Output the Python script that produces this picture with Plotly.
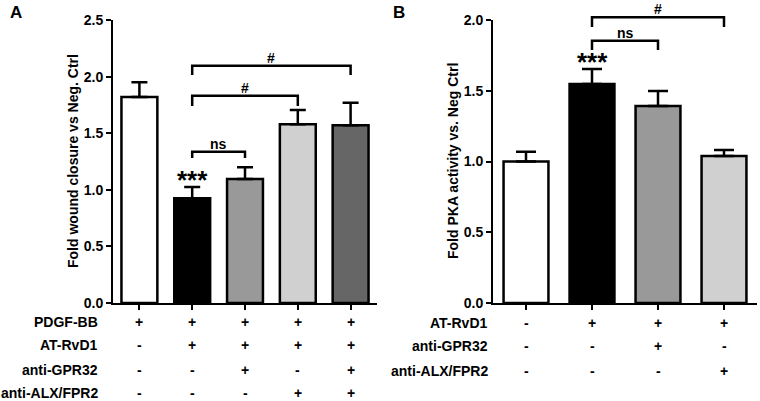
import plotly.graph_objects as go

# panel A: wound closure
groups_a = ['1', '2', '3', '4', '5']
wound = [1.82, 0.925, 1.095, 1.58, 1.57]
wound_err = [0.13, 0.10, 0.105, 0.125, 0.20]
colors_a = ['white', 'black', '#999999', '#d0d0d0', '#666666']
rows_a = ['PDGF-BB', 'AT-RvD1', 'anti-GPR32', 'anti-ALX/FPR2']
signs_a = [['+', '+', '+', '+', '+'],
           ['-', '+', '+', '+', '+'],
           ['-', '-', '+', '-', '+'],
           ['-', '-', '-', '+', '+']]
# (from, to, top, leg bottom, label)
brackets_a = [(1, 2, 1.337, 1.28, 'ns'),
              (1, 3, 1.83, 1.74, '#'),
              (1, 4, 2.096, 2.014, '#')]

# panel B: PKA activity
groups_b = ['1', '2', '3', '4']
pka = [1.0, 1.548, 1.392, 1.039]
pka_err = [0.069, 0.106, 0.106, 0.042]
colors_b = ['white', 'black', '#999999', '#d0d0d0']
rows_b = ['AT-RvD1', 'anti-GPR32', 'anti-ALX/FPR2']
signs_b = [['-', '+', '+', '+'],
           ['-', '-', '+', '-'],
           ['-', '-', '-', '+']]
brackets_b = [(1, 2, 1.854, 1.788, 'ns'),
              (1, 3, 2.019, 1.951, '#')]

W, H = 760, 401
FONT = 'Liberation Sans'


def px(x):
    return x / W


def py(y):
    return 1 - y / H


fig = go.Figure()

axis_common = dict(showgrid=False, zeroline=False, showline=True, linecolor='black',
                   linewidth=2, ticks='outside', ticklen=5, tickwidth=2, tickcolor='black',
                   automargin=False)

fig.add_trace(go.Bar(x=list(range(len(wound))), y=wound, width=0.68,
                     marker=dict(color=colors_a, line=dict(color='black', width=2.5)),
                     error_y=dict(type='data', array=wound_err, arrayminus=[0] * len(wound),
                                  symmetric=False, color='black', thickness=2.5, width=8),
                     xaxis='x', yaxis='y', showlegend=False))
fig.add_trace(go.Bar(x=list(range(len(pka))), y=pka, width=0.68,
                     marker=dict(color=colors_b, line=dict(color='black', width=2.5)),
                     error_y=dict(type='data', array=pka_err, arrayminus=[0] * len(pka),
                                  symmetric=False, color='black', thickness=2.5, width=10),
                     xaxis='x2', yaxis='y2', showlegend=False))

ymax_a, ymax_b = 2.5, 2.0
fig.update_layout(
    width=W, height=H, margin=dict(l=0, r=0, t=0, b=0, pad=0, autoexpand=False),
    paper_bgcolor='white', plot_bgcolor='white',
    font=dict(family=FONT, size=14, color='black'),
    xaxis=dict(domain=[px(113), px(377)], range=[-0.5, 4.5], tickvals=list(range(5)),
               showticklabels=False, anchor='y', **axis_common),
    yaxis=dict(domain=[py(303), py(20)], range=[0, ymax_a], tickvals=[0, 0.5, 1, 1.5, 2, 2.5],
               ticktext=['0.0', '0.5', '1.0', '1.5', '2.0', '2.5'], anchor='x',
               tickfont=dict(family=FONT, size=14, color='black', weight='bold'), **axis_common),
    xaxis2=dict(domain=[px(493), px(757)], range=[-0.5, 3.5], tickvals=list(range(4)),
                showticklabels=False, anchor='y2', **axis_common),
    yaxis2=dict(domain=[py(303), py(20)], range=[0, ymax_b], tickvals=[0, 0.5, 1, 1.5, 2],
                ticktext=['0.0', '0.5', '1.0', '1.5', '2.0'], anchor='x2',
                tickfont=dict(family=FONT, size=14, color='black', weight='bold'), **axis_common),
)


def add_brackets(brackets, xref, yref, ymax):
    for i, j, top, leg, label in brackets:
        fig.add_shape(type='path', xref=xref, yref=yref + ' domain',
                      path=f'M {i},{leg / ymax} L {i},{top / ymax} L {j},{top / ymax} L {j},{leg / ymax}',
                      line=dict(color='black', width=2.5))
        fig.add_annotation(x=(i + j) / 2, y=top / ymax, xref=xref, yref=yref + ' domain',
                           text=f'<b>{label}</b>', showarrow=False, xanchor='center',
                           yanchor='bottom', yshift=-1, borderpad=0, font=dict(size=14))


add_brackets(brackets_a, 'x', 'y', ymax_a)
add_brackets(brackets_b, 'x2', 'y2', ymax_b)

# significance stars above the AT-RvD1 bars
fig.add_annotation(x=1, y=wound[1] + wound_err[1], xref='x', yref='y', text='<b>***</b>',
                   showarrow=False, xanchor='center', yanchor='bottom', yshift=-10,
                   font=dict(size=26))
fig.add_annotation(x=1, y=(pka[1] + pka_err[1]) / ymax_b, xref='x2', yref='y2 domain',
                   text='<b>***</b>', showarrow=False, xanchor='center', yanchor='bottom',
                   yshift=-10, font=dict(size=26))


def add_table(rows, signs, xref, label_x, row_y):
    for r, name in enumerate(rows):
        fig.add_annotation(x=px(label_x), y=py(row_y[r]), xref='paper', yref='paper',
                           text=f'<b>{name}</b>', showarrow=False, xanchor='right',
                           yanchor='middle', font=dict(size=14))
        for c, s in enumerate(signs[r]):
            fig.add_annotation(x=c, y=py(row_y[r]), xref=xref, yref='paper',
                               text=f'<b>{s}</b>', showarrow=False, xanchor='center',
                               yanchor='middle', font=dict(size=14))


add_table(rows_a, signs_a, 'x', 100, [322, 345, 370, 393])
add_table(rows_b, signs_b, 'x2', 490, [323, 346, 371])

# y axis titles and panel letters
fig.add_annotation(x=px(73), y=py(161), xref='paper', yref='paper',
                   text='<b>Fold wound closure vs Neg. Ctrl</b>', textangle=-90,
                   showarrow=False, xanchor='center', yanchor='middle', font=dict(size=14))
fig.add_annotation(x=px(453), y=py(161), xref='paper', yref='paper',
                   text='<b>Fold PKA activity vs. Neg Ctrl</b>', textangle=-90,
                   showarrow=False, xanchor='center', yanchor='middle', font=dict(size=14))
fig.add_annotation(x=px(16), y=py(12), xref='paper', yref='paper', text='<b>A</b>',
                   showarrow=False, xanchor='center', yanchor='middle', font=dict(size=17))
fig.add_annotation(x=px(399), y=py(12), xref='paper', yref='paper', text='<b>B</b>',
                   showarrow=False, xanchor='center', yanchor='middle', font=dict(size=17))

# drop the default page margin so the figure fills the window exactly
fig.write_html("out.html", config={'displayModeBar': False},
               post_script="document.body.style.margin = '0';")
